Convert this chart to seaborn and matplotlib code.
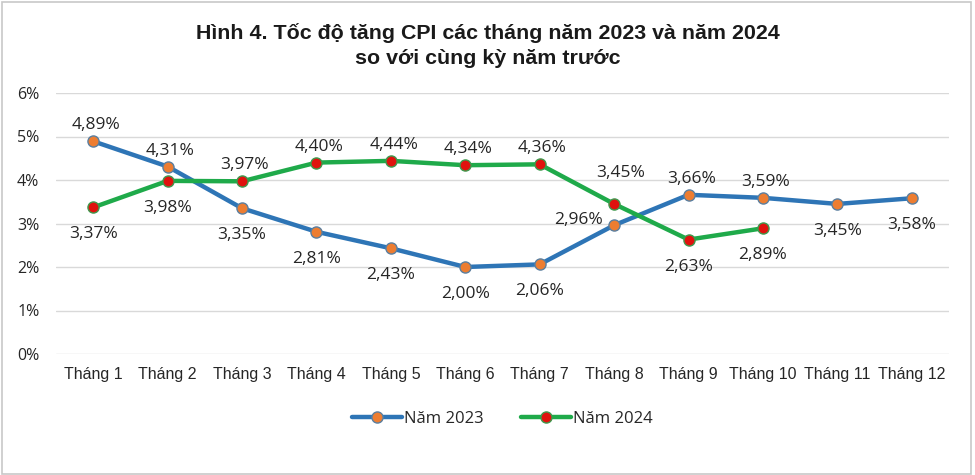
import matplotlib
matplotlib.use("Agg")
import matplotlib.pyplot as plt
import seaborn as sns
import pandas as pd
from matplotlib.patches import Rectangle

months = ["Tháng 1", "Tháng 2", "Tháng 3", "Tháng 4", "Tháng 5", "Tháng 6",
          "Tháng 7", "Tháng 8", "Tháng 9", "Tháng 10", "Tháng 11", "Tháng 12"]
cpi_2023 = [4.89, 4.31, 3.35, 2.81, 2.43, 2.00, 2.06, 2.96, 3.66, 3.59, 3.45, 3.58]
cpi_2024 = [3.37, 3.98, 3.97, 4.40, 4.44, 4.34, 4.36, 3.45, 2.63, 2.89]
yticks = [0, 1, 2, 3, 4, 5, 6]

# label placement: a = above, b = below, l = left, ar = above-right
pos_2023 = ["a", "a", "b", "b", "b", "b", "b", "l", "a", "a", "b", "b"]
pos_2024 = ["b", "b", "a", "a", "a", "a", "a", "ar", "b", "b"]

sns.set_theme(style="white")
plt.rcParams["font.family"] = ["Open Sans", "DejaVu Sans"]

df23 = pd.DataFrame({"x": range(len(cpi_2023)), "y": cpi_2023})
df24 = pd.DataFrame({"x": range(len(cpi_2024)), "y": cpi_2024})

fig = plt.figure(figsize=(9.75, 4.75), dpi=100)
ax = fig.add_axes([56/975, 1 - 354/475, (949-56)/975, (354-93)/475])

blue = "#2E75B6"
green = "#1FAA4A"
sns.lineplot(data=df23, x="x", y="y", ax=ax, color=blue, lw=3.2, marker="o",
             markersize=8, markerfacecolor="#ED7D31", markeredgecolor="#5A7FA0",
             markeredgewidth=1.0, label="Năm 2023")
sns.lineplot(data=df24, x="x", y="y", ax=ax, color=green, lw=3.2, marker="o",
             markersize=8, markerfacecolor="#E0120E", markeredgecolor="#3E9A4E",
             markeredgewidth=1.0, label="Năm 2024")

def fmt(v):
    return f"{v:.2f}%".replace(".", ",")

offsets = {"a": ((2, 11.5), "center"), "b": ((0, -19.5), "center"),
           "l": ((-8, 4), "right"), "ar": ((5, 22), "center")}

def annotate(vals, poss):
    for i, (v, p) in enumerate(zip(vals, poss)):
        off, ha = offsets[p]
        ax.annotate(fmt(v), (i, v), xytext=off, textcoords="offset points",
                    ha=ha, va="center", fontsize=12.5, color="#262626")

annotate(cpi_2023, pos_2023)
annotate(cpi_2024, pos_2024)

ax.set_xlim(-0.5, len(months) - 0.5)
ax.set_ylim(0, 6)
ax.set_xticks(range(len(months)))
ax.set_xticklabels(months, fontsize=11.5, color="#262626", family="Liberation Sans")
ax.set_yticks(yticks)
ax.set_yticklabels([f"{t}%" for t in yticks], fontsize=11.5, color="#262626")
ax.tick_params(axis="x", length=0, pad=9)
ax.tick_params(axis="y", length=0, pad=12)
ax.set_xlabel("")
ax.set_ylabel("")
ax.grid(axis="y", color="#D9D9D9", lw=1)
ax.set_axisbelow(True)
for s in ax.spines.values():
    s.set_visible(False)

ax.legend(loc="upper center", bbox_to_anchor=(0.5, -0.16), ncol=2, frameon=False,
          fontsize=12, handlelength=3.0, columnspacing=2.2, handletextpad=0.15)

fig.text(0.5, 1 - 33/475, "Hình 4. Tốc độ tăng CPI các tháng năm 2023 và năm 2024",
         ha="center", va="center", fontsize=15.4, fontweight="bold",
         family="Liberation Sans", color="#1a1a1a")
fig.text(0.5, 1 - 58/475, "so với cùng kỳ năm trước",
         ha="center", va="center", fontsize=15.4, fontweight="bold",
         family="Liberation Sans", color="#1a1a1a")

fig.patches.append(Rectangle((0.002, 0.003), 0.994, 0.992, transform=fig.transFigure,
                             fill=False, edgecolor="#C8C8C8", lw=1.2))

fig.savefig("out.png", dpi=100)
